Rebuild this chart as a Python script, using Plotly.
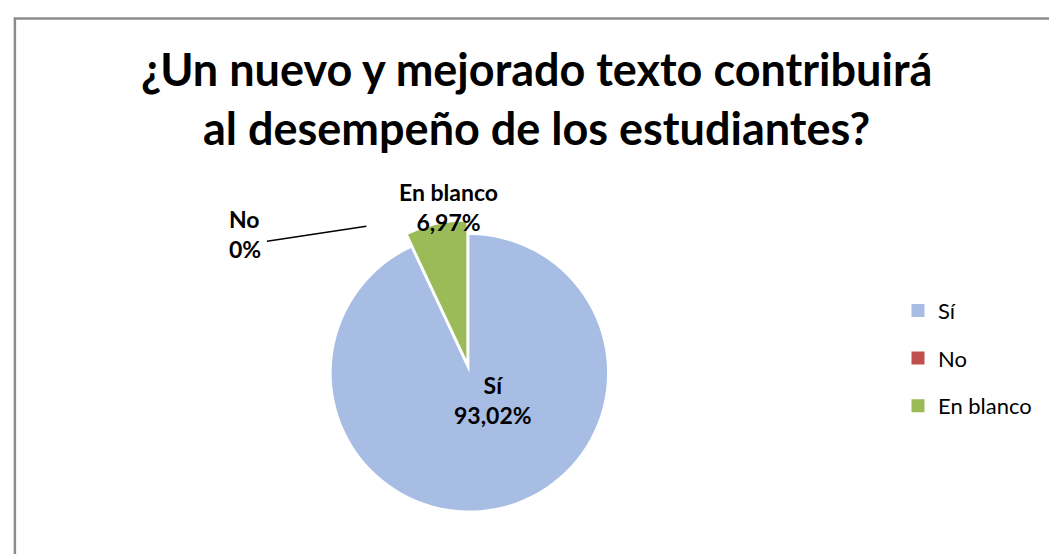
import plotly.graph_objects as go

categories = ["Sí", "No", "En blanco"]
values = [93.02, 0.0, 6.97]
colors = ["#A7BDE4", "#C0504D", "#9BBB59"]
title_text = "<b>¿Un nuevo y mejorado texto contribuirá<br>al desempeño de los estudiantes?</b>"
FONT = "Lato, Open Sans, sans-serif"

def fmt(v):
    if v == 0:
        return "0%"
    return f"{v:.2f}".replace(".", ",") + "%"

labels_txt = [f"<b>{c}<br>{fmt(v)}</b>" for c, v in zip(categories, values)]

fig = go.Figure()
fig.add_trace(go.Pie(
    labels=categories,
    values=values,
    sort=False,
    direction="clockwise",
    rotation=0,
    pull=[0, 0.1, 0.1],
    marker=dict(colors=colors, line=dict(color="white", width=0)),
    textinfo="none",
    domain=dict(x=[0.293, 0.580], y=[0.068, 0.615]),
    showlegend=False,
    hoverinfo="label+percent",
))

# legend entries (one per category) so the spacing can match the reference
for c, col in zip(categories, colors):
    fig.add_trace(go.Scatter(
        x=[None], y=[None], mode="markers", name=c, legendgroup=c,
        marker=dict(symbol="square", size=13, color=col),
        showlegend=True,
    ))

# data labels: Sí, No, En blanco
label_pos = [(0.459, 0.292, "center"), (0.207, 0.592, "left"), (0.4165, 0.641, "center")]
for txt, (lx, ly, anc) in zip(labels_txt, label_pos):
    fig.add_annotation(
        x=lx, y=ly, xref="paper", yref="paper", text=txt,
        showarrow=False, align="center" if anc == "center" else "left",
        xanchor=anc, yanchor="middle",
        font=dict(family=FONT, size=23, color="black"),
    )

fig.add_annotation(
    x=0.5, y=0.836, xref="paper", yref="paper",
    text=title_text, showarrow=False, align="center",
    xanchor="center", yanchor="middle",
    font=dict(family=FONT, size=45, color="black"),
)

fig.update_layout(
    width=1057, height=554,
    margin=dict(l=0, r=0, t=0, b=0),
    paper_bgcolor="white",
    plot_bgcolor="white",
    xaxis=dict(visible=False, domain=[0.9, 0.95]),
    yaxis=dict(visible=False, domain=[0.9, 0.95]),
    legend=dict(x=0.842, y=0.368, xanchor="left", yanchor="middle",
                font=dict(family=FONT, size=22, color="black"),
                itemwidth=30, tracegroupgap=16, bgcolor="rgba(0,0,0,0)"),
    shapes=[
        dict(type="rect", xref="paper", yref="paper", x0=0.0065, y0=-0.05, x1=1.05, y1=0.981,
             line=dict(color="#8C8C8C", width=2.5), fillcolor="rgba(0,0,0,0)", layer="below"),
        dict(type="line", xref="paper", yref="paper",
             x0=0.245, y0=0.579, x1=0.339, y1=0.606, line=dict(color="black", width=1.5)),
    ],
)

fig.write_html("out.html")
